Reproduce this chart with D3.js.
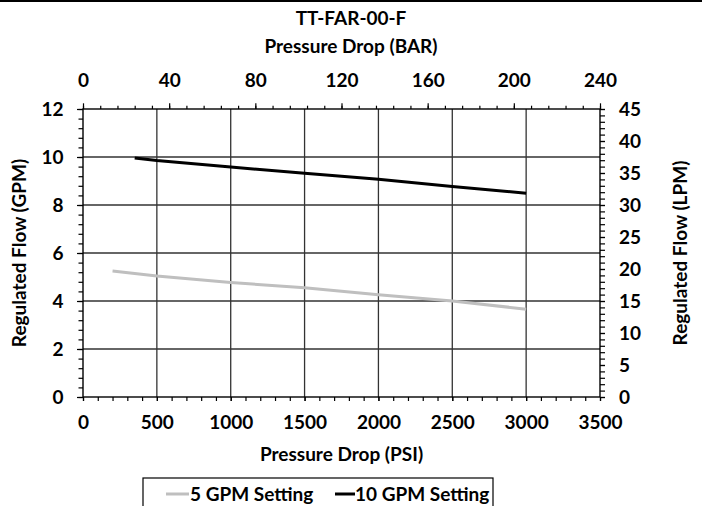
<!DOCTYPE html>
<html>
<head>
<meta charset="utf-8">
<script src="https://cdn.jsdelivr.net/npm/d3@7"></script>
<style>
  body { margin: 0; background: #fff; }
  svg text { font-family: Lato, "Open Sans", sans-serif; font-weight: bold; fill: #000; }
</style>
</head>
<body>
<svg id="chart" width="702" height="506"></svg>
<script>
// chart values
var title = 'TT-FAR-00-F';
var psi5 = [200, 500, 1000, 1500, 2000, 2500, 3000];
var gpm5 = [5.25, 5.04, 4.77, 4.55, 4.26, 4.00, 3.66];
var psi10 = [350, 500, 1000, 1500, 2000, 2500, 3000];
var gpm10 = [9.96, 9.85, 9.58, 9.32, 9.07, 8.77, 8.49];
var seriesNames = ['5 GPM Setting', '10 GPM Setting'];

var psiTicks = [0, 500, 1000, 1500, 2000, 2500, 3000, 3500];
var barTicks = [0, 40, 80, 120, 160, 200, 240];
var gpmTicks = [0, 2, 4, 6, 8, 10, 12];
var lpmTicks = [0, 5, 10, 15, 20, 25, 30, 35, 40, 45];

(function() {
  var FS = 19;
  var svg = d3.select('#chart');
  var plot = { left: 83, right: 600, top: 109, bottom: 397 };

  var x = d3.scaleLinear().domain([0, 3500]).range([plot.left, plot.right]);
  var xBar = d3.scaleLinear().domain([0, 240]).range([plot.left, plot.right]);
  var y = d3.scaleLinear().domain([0, 12]).range([plot.bottom, plot.top]);
  var yL = d3.scaleLinear().domain([0, 45]).range([plot.bottom, plot.top]);

  // frame line along the top edge
  svg.append('line')
    .attr('x1', 0).attr('x2', 702).attr('y1', 1).attr('y2', 1)
    .attr('stroke', '#000').attr('stroke-width', 2);

  // gridlines
  var grid = svg.append('g').attr('stroke', '#333').attr('stroke-width', 1.3);
  grid.selectAll('.vg').data(psiTicks.slice(1, -1)).enter().append('line')
    .attr('x1', x).attr('x2', x)
    .attr('y1', plot.top).attr('y2', plot.bottom);
  grid.selectAll('.hg').data(gpmTicks.slice(1, -1)).enter().append('line')
    .attr('x1', plot.left).attr('x2', plot.right)
    .attr('y1', y).attr('y2', y);

  function styleAxis(g) {
    g.select('.domain').remove();
    g.selectAll('line').attr('stroke', '#000').attr('stroke-width', 1.2);
    g.selectAll('text').style('font-size', FS + 'px');
  }

  // minor ticks
  svg.append('g').attr('transform', 'translate(0,' + plot.bottom + ')')
    .call(d3.axisBottom(x).tickValues(d3.range(0, 3501, 100)).tickSize(4).tickFormat(''))
    .call(styleAxis);
  svg.append('g').attr('transform', 'translate(0,' + plot.top + ')')
    .call(d3.axisTop(xBar).tickValues(d3.range(0, 241, 8)).tickSize(3.3).tickFormat(''))
    .call(styleAxis);
  svg.append('g').attr('transform', 'translate(' + plot.left + ',0)')
    .call(d3.axisLeft(y).tickValues(d3.range(0, 12.01, 0.4)).tickSize(4.5).tickFormat(''))
    .call(styleAxis);
  svg.append('g').attr('transform', 'translate(' + plot.right + ',0)')
    .call(d3.axisRight(yL).tickValues(d3.range(0, 46, 1)).tickSize(5).tickFormat(''))
    .call(styleAxis);

  // major ticks with labels
  svg.append('g').attr('transform', 'translate(0,' + plot.bottom + ')')
    .call(d3.axisBottom(x).tickValues(psiTicks).tickSize(4).tickPadding(14.5).tickFormat(d3.format('d')))
    .call(styleAxis);
  svg.append('g').attr('transform', 'translate(0,' + plot.top + ')')
    .call(d3.axisTop(xBar).tickValues(barTicks).tickSize(5.7).tickPadding(16).tickFormat(d3.format('d')))
    .call(styleAxis);
  svg.append('g').attr('transform', 'translate(' + plot.left + ',0)')
    .call(d3.axisLeft(y).tickValues(gpmTicks).tickSize(6).tickPadding(13.5).tickFormat(d3.format('d')))
    .call(styleAxis);
  svg.append('g').attr('transform', 'translate(' + plot.right + ',0)')
    .call(d3.axisRight(yL).tickValues(lpmTicks).tickSize(5).tickPadding(14).tickFormat(d3.format('d')))
    .call(styleAxis);

  // plot border
  svg.append('rect')
    .attr('x', plot.left).attr('y', plot.top)
    .attr('width', plot.right - plot.left).attr('height', plot.bottom - plot.top)
    .attr('fill', 'none').attr('stroke', '#000').attr('stroke-width', 1.4);

  // series
  var line = d3.line().x(function(d) { return x(d[0]); }).y(function(d) { return y(d[1]); });
  var series = [
    { name: seriesNames[0], color: '#bfbfbf', pts: d3.zip(psi5, gpm5) },
    { name: seriesNames[1], color: '#000', pts: d3.zip(psi10, gpm10) }
  ];
  svg.selectAll('.series').data(series).enter().append('path')
    .attr('d', function(d) { return line(d.pts); })
    .attr('fill', 'none')
    .attr('stroke', function(d) { return d.color; })
    .attr('stroke-width', 3);

  // titles
  svg.append('text').attr('x', 351).attr('y', 25)
    .attr('text-anchor', 'middle').style('font-size', FS + 'px').text(title);
  svg.append('text').attr('x', 351).attr('y', 53)
    .attr('text-anchor', 'middle').style('font-size', FS + 'px').text('Pressure Drop (BAR)');
  svg.append('text').attr('x', (plot.left + plot.right) / 2).attr('y', 461)
    .attr('text-anchor', 'middle').style('font-size', FS + 'px').text('Pressure Drop (PSI)');
  svg.append('text')
    .attr('transform', 'translate(26,' + (plot.top + plot.bottom) / 2 + ') rotate(-90)')
    .attr('text-anchor', 'middle').style('font-size', FS + 'px').text('Regulated Flow (GPM)');
  svg.append('text')
    .attr('transform', 'translate(687,' + (plot.top + plot.bottom) / 2 + ') rotate(-90)')
    .attr('text-anchor', 'middle').style('font-size', FS + 'px').text('Regulated Flow (LPM)');

  // legend
  var lg = svg.append('g');
  lg.append('rect')
    .attr('x', 143).attr('y', 478).attr('width', 350).attr('height', 40)
    .attr('fill', '#fff').attr('stroke', '#000').attr('stroke-width', 1.2);
  var items = lg.selectAll('.item').data(series).enter().append('g')
    .attr('transform', function(d, i) { return 'translate(' + [166, 335][i] + ',494)'; });
  items.append('line')
    .attr('x1', 0).attr('x2', function(d, i) { return [23, 20][i]; })
    .attr('stroke', function(d) { return d.color; }).attr('stroke-width', 3);
  items.append('text')
    .attr('x', function(d, i) { return [24, 20][i]; }).attr('y', 7)
    .style('font-size', FS + 'px').text(function(d) { return d.name; });
}());
</script>
</body>
</html>
